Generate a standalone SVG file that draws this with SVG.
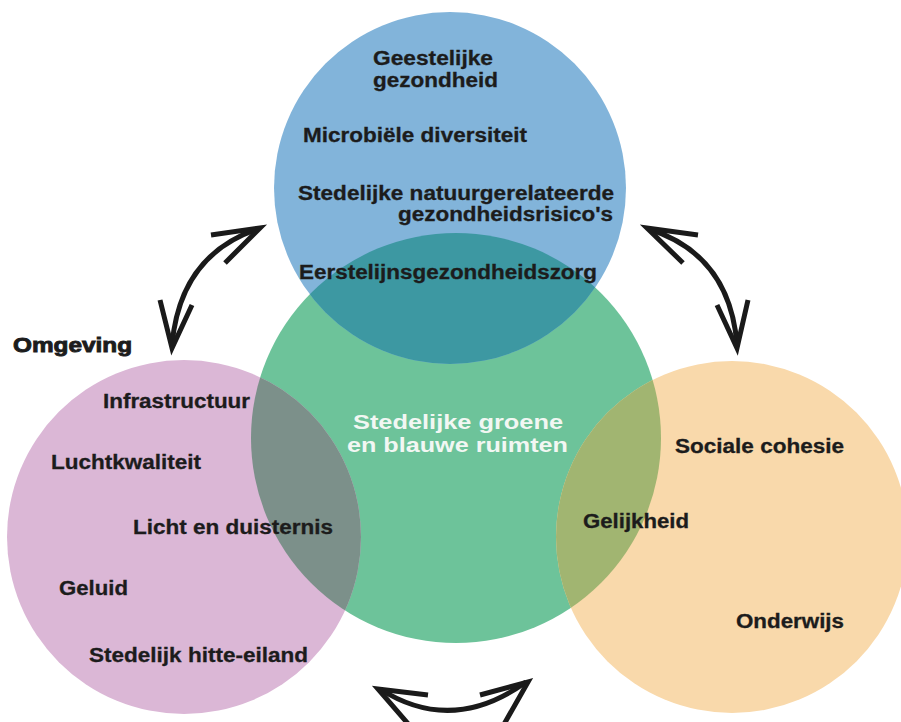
<svg xmlns="http://www.w3.org/2000/svg" width="901" height="722" viewBox="0 0 901 722">
<style>
.lbl{font-family:"Liberation Sans",Arial,sans-serif;font-weight:bold;font-size:20px;fill:#1c1c1c;stroke:#1c1c1c;stroke-width:0.3}
.ctr{font-family:"Liberation Sans",Arial,sans-serif;font-weight:bold;font-size:21px;fill:#f2f7f3}
.arr{fill:none;stroke:#1a1a1a;stroke-width:5;stroke-linecap:butt;stroke-linejoin:miter}
</style>
<defs>
<clipPath id="cBlue"><circle cx="450" cy="188" r="176"/></clipPath>
<clipPath id="cPurple"><circle cx="184" cy="537" r="177"/></clipPath>
<clipPath id="cOrange"><circle cx="732" cy="537" r="176"/></clipPath>
</defs>
<rect width="901" height="722" fill="#ffffff"/>

<g id="node-green">
<circle cx="456" cy="438" r="205" fill="#6DC39A"/>
<text class="ctr" x="353" y="429" textLength="210" lengthAdjust="spacingAndGlyphs">Stedelijke groene</text>
<text class="ctr" x="347" y="452" textLength="221" lengthAdjust="spacingAndGlyphs">en blauwe ruimten</text>
</g>

<g id="node-health">
<circle cx="450" cy="188" r="176" fill="#82B4DA"/>
<circle cx="456" cy="438" r="205" fill="#3D98A2" clip-path="url(#cBlue)"/>
<text class="lbl" x="373" y="65" textLength="120" lengthAdjust="spacingAndGlyphs">Geestelijke</text>
<text class="lbl" x="373" y="87" textLength="125" lengthAdjust="spacingAndGlyphs">gezondheid</text>
<text class="lbl" x="303" y="142" textLength="224" lengthAdjust="spacingAndGlyphs">Microbiële diversiteit</text>
<text class="lbl" x="298" y="200" textLength="316" lengthAdjust="spacingAndGlyphs">Stedelijke natuurgerelateerde</text>
<text class="lbl" x="398" y="221" textLength="215" lengthAdjust="spacingAndGlyphs">gezondheidsrisico's</text>
<text class="lbl" x="299" y="279" textLength="298" lengthAdjust="spacingAndGlyphs">Eerstelijnsgezondheidszorg</text>
</g>

<g id="node-environment">
<circle cx="184" cy="537" r="177" fill="#DBB7D6"/>
<circle cx="456" cy="438" r="205" fill="#7C908A" clip-path="url(#cPurple)"/>
<text class="lbl" x="13" y="352" textLength="119" lengthAdjust="spacingAndGlyphs" style="font-size:21px;stroke-width:0.9">Omgeving</text>
<text class="lbl" x="103" y="408" textLength="147" lengthAdjust="spacingAndGlyphs">Infrastructuur</text>
<text class="lbl" x="51" y="469" textLength="150" lengthAdjust="spacingAndGlyphs">Luchtkwaliteit</text>
<text class="lbl" x="133" y="534" textLength="200" lengthAdjust="spacingAndGlyphs">Licht en duisternis</text>
<text class="lbl" x="59" y="595" textLength="69" lengthAdjust="spacingAndGlyphs">Geluid</text>
<text class="lbl" x="89" y="662" textLength="219" lengthAdjust="spacingAndGlyphs">Stedelijk hitte-eiland</text>
</g>

<g id="node-social">
<circle cx="732" cy="537" r="176" fill="#F9D9AB"/>
<circle cx="456" cy="438" r="205" fill="#A1B571" clip-path="url(#cOrange)"/>
<text class="lbl" x="675" y="453" textLength="169" lengthAdjust="spacingAndGlyphs">Sociale cohesie</text>
<text class="lbl" x="583" y="528" textLength="106" lengthAdjust="spacingAndGlyphs">Gelijkheid</text>
<text class="lbl" x="736" y="628" textLength="108" lengthAdjust="spacingAndGlyphs">Onderwijs</text>
</g>

<g id="connectors">
<path class="arr" d="M172,345 Q180,255 258,229"/>
<path class="arr" d="M211,235 L260,228 L225,263"/>
<path class="arr" d="M160,300 L172,348 L192,305"/>
<path class="arr" d="M737,345 Q730,255 649,229"/>
<path class="arr" d="M698,235 L647,228 L683,263"/>
<path class="arr" d="M748,300 L737,348 L717,305"/>
<path class="arr" d="M380,689 Q452,735 526,682"/>
<path class="arr" d="M428,695 L378,689 L410,726"/>
<path class="arr" d="M480,695 L528,682 L503,726"/>
</g>
</svg>
